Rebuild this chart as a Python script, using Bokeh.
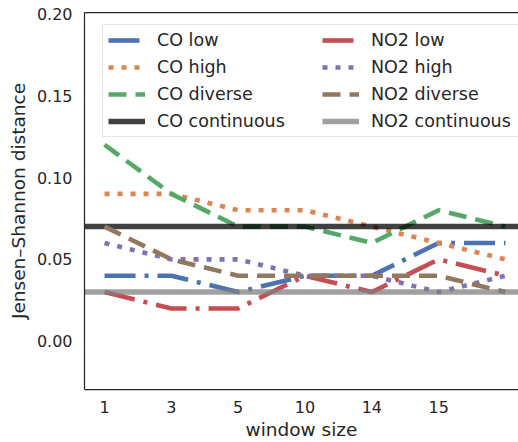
from bokeh.plotting import figure
from bokeh.models import (Range1d, FixedTicker, Legend, LegendItem, LinearAxis,
                          PrintfTickFormatter)
from bokeh.embed import file_html
from bokeh.resources import INLINE

# ---- data ----
window_labels = ["1", "3", "5", "10", "14", "15"]
co_low = [0.04, 0.04, 0.03, 0.04, 0.04, 0.06, 0.06]
co_high = [0.09, 0.09, 0.08, 0.08, 0.07, 0.06, 0.05]
co_diverse = [0.12, 0.09, 0.07, 0.07, 0.06, 0.08, 0.07]
no2_low = [0.03, 0.02, 0.02, 0.04, 0.03, 0.05, 0.04]
no2_high = [0.06, 0.05, 0.05, 0.04, 0.04, 0.03, 0.04]
no2_diverse = [0.07, 0.05, 0.04, 0.04, 0.04, 0.04, 0.03]
co_continuous = 0.07
no2_continuous = 0.03
y_ticks = [0.0, 0.05, 0.10, 0.15, 0.20]

xs = list(range(len(co_low)))

FONT = "DejaVu Sans"
TXT = "#262626"

xr = Range1d(-0.3, 6.195)
p = figure(width=518, height=442, output_backend="svg", toolbar_location=None,
           x_range=xr, y_range=Range1d(-0.0295, 0.2008),
           min_border_left=84, min_border_right=0, min_border_top=12,
           min_border_bottom=53)
p.outline_line_color = None
p.xgrid.visible = False
p.ygrid.visible = False
p.background_fill_color = "white"
p.border_fill_color = "white"

LW = 4.6
HW = 5.5
DASHDOT = "31 9 4 9"
DOT = "5 8"
DASH = "18 9"
span_x = [xr.start, xr.end]
r_co_low = p.line(xs, co_low, line_color="#4C72B0", line_width=LW, line_dash=DASHDOT)
r_co_high = p.line(xs, co_high, line_color="#DD8452", line_width=LW, line_dash=DOT)
r_co_div = p.line(xs, co_diverse, line_color="#55A868", line_width=LW, line_dash=DASH)
r_co_cont = p.line(span_x, [co_continuous] * 2, line_color="black", line_alpha=0.75,
                   line_width=HW)
r_no2_low = p.line(xs, no2_low, line_color="#C44E52", line_width=LW, line_dash=DASHDOT)
r_no2_high = p.line(xs, no2_high, line_color="#8172B3", line_width=LW, line_dash=DOT)
r_no2_div = p.line(xs, no2_diverse, line_color="#937860", line_width=LW, line_dash=DASH)
r_no2_cont = p.line(span_x, [no2_continuous] * 2, line_color="gray", line_alpha=0.75,
                    line_width=HW)

# axes
xa = p.xaxis[0]
xa.ticker = FixedTicker(ticks=list(range(len(window_labels))))
xa.major_label_overrides = {i: lab for i, lab in enumerate(window_labels)}
xa.axis_label = "window size"
ya = p.yaxis[0]
ya.ticker = FixedTicker(ticks=y_ticks)
ya.formatter = PrintfTickFormatter(format="%.2f")
ya.axis_label = "Jensen–Shannon distance"
for ax in (xa, ya):
    ax.major_tick_line_color = None
    ax.minor_tick_line_color = None
    ax.major_tick_in = 0
    ax.major_tick_out = 0
    ax.axis_line_color = TXT
    ax.axis_line_width = 1.25
    ax.major_label_text_font = FONT
    ax.major_label_text_font_size = "16px"
    ax.major_label_text_color = TXT
    ax.axis_label_text_font = FONT
    ax.axis_label_text_font_size = "18.5px"
    ax.axis_label_text_font_style = "normal"
    ax.axis_label_text_color = TXT
xa.major_label_standoff = 11
xa.axis_label_standoff = 3
ya.major_label_standoff = 12
ya.axis_label_standoff = 5

top = LinearAxis(major_tick_line_color=None, minor_tick_line_color=None,
                 major_tick_in=0, major_tick_out=0,
                 major_label_text_font_size="0px", axis_line_color=TXT,
                 axis_line_width=1.25, major_label_standoff=0)
top.ticker = FixedTicker(ticks=[])
p.add_layout(top, "above")

legend = Legend(items=[
    LegendItem(label="CO low", renderers=[r_co_low]),
    LegendItem(label="CO high", renderers=[r_co_high]),
    LegendItem(label="CO diverse", renderers=[r_co_div]),
    LegendItem(label="CO continuous", renderers=[r_co_cont]),
    LegendItem(label="NO2 low", renderers=[r_no2_low]),
    LegendItem(label="NO2 high", renderers=[r_no2_high]),
    LegendItem(label="NO2 diverse", renderers=[r_no2_div]),
    LegendItem(label="NO2 continuous", renderers=[r_no2_cont]),
], location=(18, 252), orientation="vertical", ncols=2)
legend.glyph_width = 37
legend.glyph_height = 20
legend.label_height = 20
legend.label_width = 158
legend.label_standoff = 12
legend.spacing = 7
legend.padding = 5
legend.margin = 0
legend.label_text_font = FONT
legend.label_text_font_size = "17.5px"
legend.label_text_color = TXT
legend.border_line_color = "#cccccc"
legend.border_line_width = 1
legend.background_fill_color = "white"
legend.background_fill_alpha = 0.8
p.add_layout(legend, "center")

open("out.html", "w").write(file_html(p, INLINE))
